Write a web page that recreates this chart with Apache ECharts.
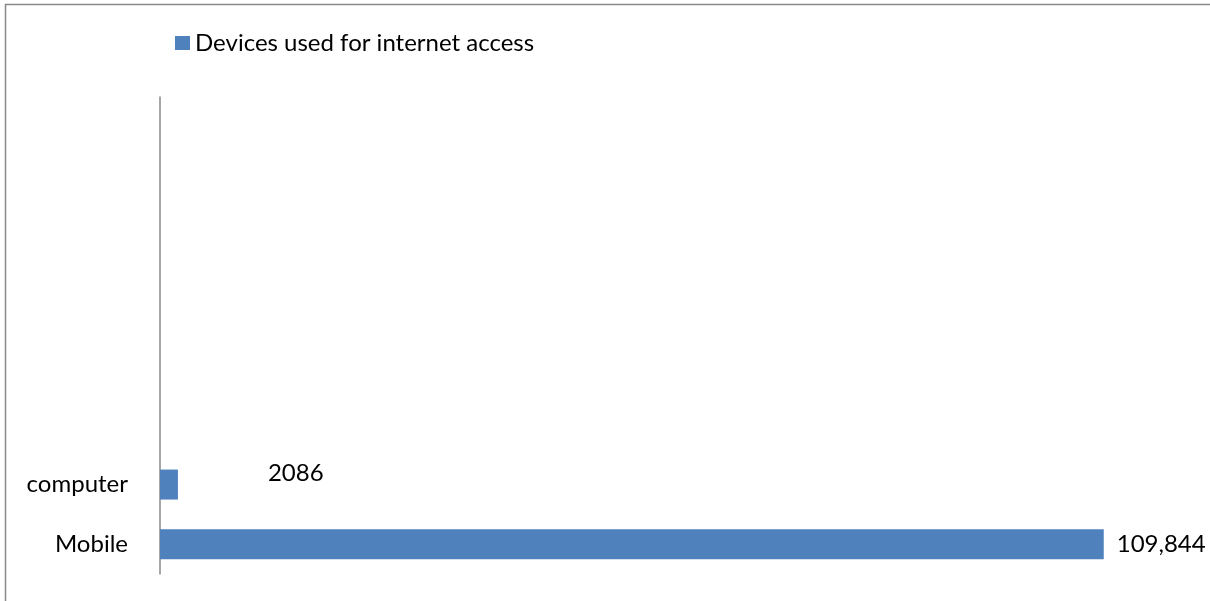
<!DOCTYPE html>
<html>
<head>
<meta charset="utf-8">
<script src="https://cdn.jsdelivr.net/npm/echarts@6/dist/echarts.min.js"></script>
<style>
  html, body { margin: 0; padding: 0; background: #fff; }
  #chart { width: 1210px; height: 601px; }
</style>
</head>
<body>
<div id="chart"></div>
<script>
// Device categories, bottom to top; the upper slots are empty rows on the axis
const categories = ['Mobile', 'computer', '', '', '', '', '', ''];
const deviceCounts = [109844, 2086, null, null, null, null, null, null];
const seriesName = 'Devices used for internet access';

const FONT = 'Lato';
const BAR = '#4f81bd';

const chart = echarts.init(document.getElementById('chart'), null, { renderer: 'canvas' });

chart.setOption({
  animation: false,
  backgroundColor: '#fff',
  textStyle: { fontFamily: FONT },
  graphic: [{
    type: 'rect',
    shape: { x: 5.5, y: 4.5, width: 1400, height: 800 },
    style: { fill: 'none', stroke: '#898989', lineWidth: 1.5 },
    silent: true
  }],
  legend: {
    left: 175,
    top: 31,
    padding: 0,
    itemWidth: 15,
    itemHeight: 14,
    icon: 'rect',
    textStyle: { fontFamily: FONT, fontSize: 24, color: '#000' },
    data: [seriesName]
  },
  grid: { left: 160, top: 97, width: 1031, bottom: 27, containLabel: false },
  xAxis: {
    type: 'value',
    min: 0,
    max: 120000,
    show: false
  },
  yAxis: {
    type: 'category',
    data: categories,
    axisLine: { show: true, lineStyle: { color: '#8a8a8a', width: 1.5 } },
    axisTick: { show: false },
    splitLine: { show: false },
    axisLabel: { margin: 32, fontFamily: FONT, fontSize: 24, color: '#000' }
  },
  series: [{
    name: seriesName,
    type: 'bar',
    barWidth: 30,
    itemStyle: { color: BAR },
    label: {
      show: true,
      position: 'right',
      distance: 13,
      fontFamily: FONT,
      fontSize: 24,
      color: '#000',
      formatter: p => p.dataIndex === 0 ? p.value.toLocaleString('en-US') : String(p.value)
    },
    data: deviceCounts.map((v, i) => i === 1
      ? { value: v, label: { offset: [77, -11] } }
      : v)
  }]
});
</script>
</body>
</html>
